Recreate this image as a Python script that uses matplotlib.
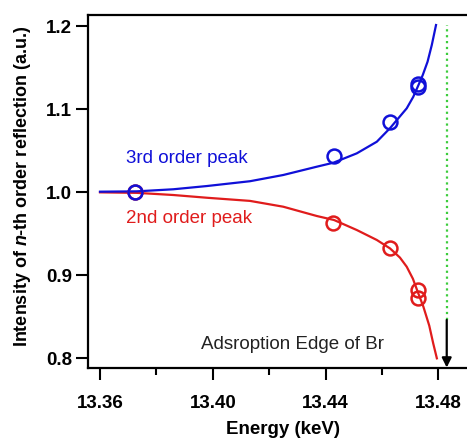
import matplotlib
matplotlib.use('Agg')
import matplotlib.pyplot as plt

plt.rcParams['font.family'] = ['Liberation Sans', 'DejaVu Sans']
plt.rcParams['mathtext.fontset'] = 'custom'
plt.rcParams['mathtext.rm'] = 'Liberation Sans:bold'
plt.rcParams['mathtext.it'] = 'Liberation Sans:italic:bold'

# measured points
third_energy = [13.3724, 13.4430, 13.4629, 13.4729, 13.4729]
third_pts = [1.000, 1.0434, 1.084, 1.126, 1.130]
second_energy = [13.3724, 13.4427, 13.4629, 13.4729, 13.4729]
second_pts = [1.000, 0.963, 0.932, 0.882, 0.872]

# fitted curves
third_fit_e = [13.360, 13.373, 13.386, 13.3979, 13.4132, 13.425, 13.4369,
               13.4428, 13.4511, 13.4582, 13.4629, 13.4688, 13.4711, 13.4729,
               13.4745, 13.4762, 13.4777, 13.4792]
third_fit = [1.0004, 1.0008, 1.0033, 1.0072, 1.013, 1.0205, 1.0305,
             1.0353, 1.0466, 1.0606, 1.077, 1.1008, 1.1145, 1.1283,
             1.141, 1.157, 1.1771, 1.2012]
second_fit_e = [13.360, 13.373, 13.386, 13.3979, 13.4132, 13.425, 13.4369,
                13.443, 13.4511, 13.4582, 13.4629, 13.4664, 13.4688, 13.471,
                13.4729, 13.4747, 13.4768, 13.4782, 13.4795]
second_fit = [0.9996, 0.999, 0.9964, 0.9931, 0.9893, 0.9823, 0.9711,
              0.9663, 0.9542, 0.9422, 0.932, 0.921, 0.91, 0.8955,
              0.878, 0.862, 0.839, 0.8177, 0.7996]

edge_energy = 13.483

blue = '#1010d8'
red = '#e01c1c'

fig = plt.figure(figsize=(4.67, 4.42), dpi=100)
ax = fig.add_axes([0.1884, 0.1674, 0.8116, 0.7986])

ax.plot(second_fit_e, second_fit, color=red, lw=1.6, zorder=2)
ax.plot(second_energy, second_pts, 'o', ms=10, mfc='none', mec=red, mew=1.8, zorder=3)
ax.plot(third_fit_e, third_fit, color=blue, lw=1.6, zorder=2)
ax.plot(third_energy, third_pts, 'o', ms=10, mfc='none', mec=blue, mew=1.8, zorder=4)

# absorption edge
ax.plot([edge_energy, edge_energy], [0.8458, 1.2012], color='#3ccc3c', lw=1.6,
        linestyle=':')
ax.annotate('', xy=(edge_energy, 0.7885), xytext=(edge_energy, 0.8458),
            arrowprops=dict(arrowstyle='-|>', color='black', lw=1.6,
                            mutation_scale=14, shrinkA=0, shrinkB=0))

ax.text(13.3692, 1.0398, '3rd order peak', color=blue, fontsize=13.5, va='center')
ax.text(13.3692, 0.9675, '2nd order peak', color=red, fontsize=13.5, va='center')
ax.text(13.4283, 0.8157, 'Adsroption Edge of Br', color='#222222', fontsize=13.5,
        ha='center', va='center')

ax.set_xlim(13.35574, 13.49019)
ax.set_ylim(0.78795, 1.21325)
ax.set_xticks([13.36, 13.40, 13.44, 13.48])
ax.set_xticklabels(['13.36', '13.40', '13.44', '13.48'])
ax.set_xticks([13.38, 13.42, 13.46], minor=True)
ax.set_yticks([0.8, 0.9, 1.0, 1.1, 1.2])
ax.set_yticklabels(['0.8', '0.9', '1.0', '1.1', '1.2'])

ax.tick_params(axis='both', which='major', direction='out', length=8.5, width=1.5,
               labelsize=13.5)
ax.tick_params(axis='x', which='major', pad=11)
ax.tick_params(axis='y', which='major', pad=3)
ax.tick_params(axis='x', which='minor', direction='out', length=5, width=1.5)
for lab in ax.get_xticklabels() + ax.get_yticklabels():
    lab.set_fontweight('bold')

ax.spines['right'].set_visible(False)
for s in ['left', 'bottom', 'top']:
    ax.spines[s].set_linewidth(1.6)

ax.set_xlabel('Energy (keV)', fontsize=13.5, fontweight='bold', va='center')
ax.set_ylabel('Intensity of $n$-th order reflection (a.u.)', fontsize=13,
              fontweight='bold', va='center')
ax.xaxis.set_label_coords(283 / 467, 12 / 442, transform=fig.transFigure)
ax.yaxis.set_label_coords(23 / 467, 256 / 442, transform=fig.transFigure)

fig.savefig('out.png', dpi=100)
